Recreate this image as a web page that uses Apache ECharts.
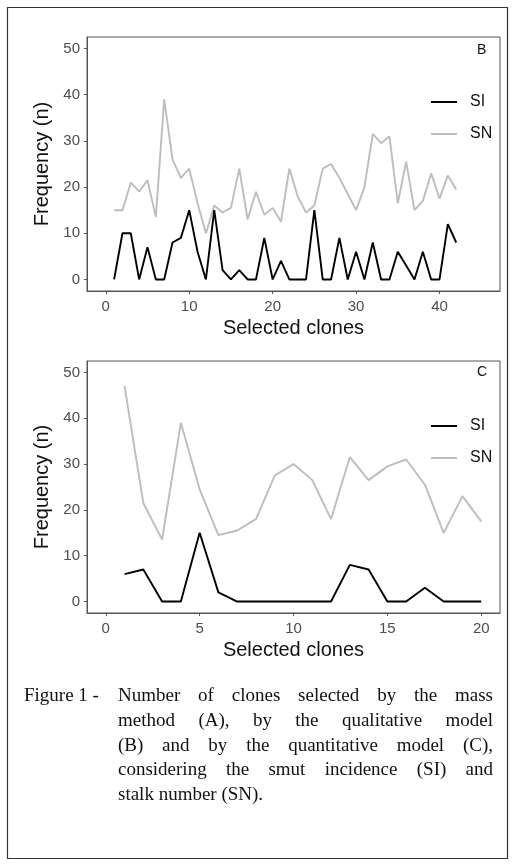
<!DOCTYPE html>
<html>
<head>
<meta charset="utf-8">
<script src="https://cdn.jsdelivr.net/npm/echarts@6/dist/echarts.min.js"></script>
<style>
html,body{margin:0;padding:0;background:#fff;}
#c{width:515px;height:866px;}
</style>
</head>
<body>
<div id="c"></div>
<script>
// ---- data ----
const clonesB = [1,2,3,4,5,6,7,8,9,10,11,12,13,14,15,16,17,18,19,20,21,22,23,24,25,26,27,28,29,30,31,32,33,34,35,36,37,38,39,40,41,42];
const siB = [0,10,10,0,7,0,0,8,9,15,6,0,15,2,0,2,0,0,9,0,4,0,0,0,15,0,0,9,0,6,0,8,0,0,6,3,0,6,0,0,12,8];
const snB = [15,15,21,19,21.5,13.5,39,26,22,24,16.5,10,16,14.5,15.5,24,13,19,14,15.5,12.5,24,18,14.5,16,24,25,22,18.5,15,20,31.5,29.5,31,16.5,25.5,15,17,23,17.5,22.5,19.5];
const clonesC = [1,2,3,4,5,6,7,8,9,10,11,12,13,14,15,16,17,18,19,20];
const siC = [6,7,0,0,15,2,0,0,0,0,0,0,8,7,0,0,3,0,0,0];
const snC = [47,21.5,13.5,39,24.5,14.5,15.5,18,27.5,30,26.5,18,31.5,26.5,29.5,31,25.5,15,23,17.5];
const xTicksB = [0,10,20,30,40];
const xTicksC = [0,5,10,15,20];
const yTicks = [0,10,20,30,40,50];
const panelLabels = ['B','C'];
const captionFirst = 'Figure 1 -';
const captionLines = [
  'Number of clones selected by the mass',
  'method (A), by the qualitative model',
  '(B) and by the quantitative model (C),',
  'considering the smut incidence (SI) and',
  'stalk number (SN).'
];

const pair = (xs, ys) => xs.map((x, i) => [x, ys[i]]);

const SANS = 'Liberation Sans, Arial, sans-serif';
const SERIF = 'Liberation Serif, Times New Roman, serif';
const axisGray = '#4d4d4d';
const boxColor = '#555';

function xAxisCfg(gi, min, max, ticks) {
  return {
    type: 'value', gridIndex: gi, min: min, max: max,
    name: 'Selected clones', nameLocation: 'middle', nameGap: 27.5,
    nameTextStyle: {fontFamily: SANS, fontSize: 20, color: '#111'},
    axisLine: {show: true, onZero: false, lineStyle: {color: boxColor, width: 1}},
    axisTick: {show: true, length: 3, inside: false, customValues: ticks, lineStyle: {color: boxColor}},
    axisLabel: {show: true, margin: 8, customValues: ticks, fontFamily: SANS, fontSize: 15, color: axisGray},
    splitLine: {show: false}
  };
}
function yAxisCfg(gi) {
  return {
    type: 'value', gridIndex: gi, min: -2.5, max: 52.5,
    name: 'Frequency (n)', nameLocation: 'middle', nameGap: 34.5,
    nameTextStyle: {fontFamily: SANS, fontSize: 20, color: '#111'},
    axisLine: {show: true, onZero: false, lineStyle: {color: boxColor, width: 1}},
    axisTick: {show: true, length: 3, inside: false, customValues: yTicks, lineStyle: {color: boxColor}},
    axisLabel: {show: true, margin: 7, customValues: yTicks, fontFamily: SANS, fontSize: 15, color: axisGray},
    splitLine: {show: false}
  };
}
function lineSeries(name, gi, data, color) {
  return {
    type: 'line', name: name, xAxisIndex: gi, yAxisIndex: gi, data: data,
    symbol: 'none', showSymbol: false, animation: false,
    lineStyle: {color: color, width: 1.9}, itemStyle: {color: color},
    z: name === 'SI' ? 3 : 2
  };
}
function legendCfg(top) {
  return {
    orient: 'vertical', left: 431, top: top, padding: 0,
    icon: 'rect', itemWidth: 26, itemHeight: 2, itemGap: 16,
    data: ['SI', 'SN'], selectedMode: false,
    textStyle: {fontFamily: SANS, fontSize: 16, color: '#111', padding: [0, 0, 0, 8]}
  };
}

const chart = echarts.init(document.getElementById('c'), null, {renderer: 'canvas'});

// caption layout helper (justification using text measurement)
const mctx = document.createElement('canvas').getContext('2d');
const capFontSize = 19;
const capFont = capFontSize + 'px ' + SERIF;
mctx.font = capFont;
function justifiedWords(line, x0, x1, y, justify) {
  const words = line.split(' ');
  const widths = words.map(w => mctx.measureText(w).width);
  const total = widths.reduce((a, b) => a + b, 0);
  const gap = justify && words.length > 1 ? (x1 - x0 - total) / (words.length - 1) : mctx.measureText(' ').width;
  let x = x0;
  return words.map((w, i) => {
    const el = {type: 'text', left: x, top: y, style: {text: w, font: capFont, fill: '#111'}};
    x += widths[i] + gap;
    return el;
  });
}
const capTop = [687, 712, 737, 761, 786];
let captionEls = [{type: 'text', left: 24, top: capTop[0], style: {text: captionFirst, font: capFont, fill: '#111'}}];
captionLines.forEach((ln, i) => {
  captionEls = captionEls.concat(justifiedWords(ln, 118, 493, capTop[i], i < captionLines.length - 1));
});

chart.setOption({
  backgroundColor: '#fff',
  animation: false,
  grid: [
    {left: 87, top: 37, width: 413, height: 254, show: true, borderColor: boxColor, borderWidth: 1, backgroundColor: 'transparent'},
    {left: 87, top: 361, width: 413, height: 252, show: true, borderColor: boxColor, borderWidth: 1, backgroundColor: 'transparent'}
  ],
  xAxis: [xAxisCfg(0, -2.25, 47.25, xTicksB), xAxisCfg(1, -1, 21, xTicksC)],
  yAxis: [yAxisCfg(0), yAxisCfg(1)],
  legend: [legendCfg(94), legendCfg(418)],
  series: [
    lineSeries('SN', 0, pair(clonesB, snB), '#bdbdbd'),
    lineSeries('SI', 0, pair(clonesB, siB), '#000'),
    lineSeries('SN', 1, pair(clonesC, snC), '#bdbdbd'),
    lineSeries('SI', 1, pair(clonesC, siC), '#000')
  ],
  graphic: [
    {type: 'rect', shape: {x: 7.5, y: 7.5, width: 500, height: 851}, style: {fill: 'none', stroke: '#333', lineWidth: 1.2}, silent: true},
    {type: 'text', left: 477, top: 43, style: {text: panelLabels[0], font: '14px ' + SANS, fill: '#111'}},
    {type: 'text', left: 477, top: 365, style: {text: panelLabels[1], font: '14px ' + SANS, fill: '#111'}}
  ].concat(captionEls)
});
</script>
</body>
</html>
